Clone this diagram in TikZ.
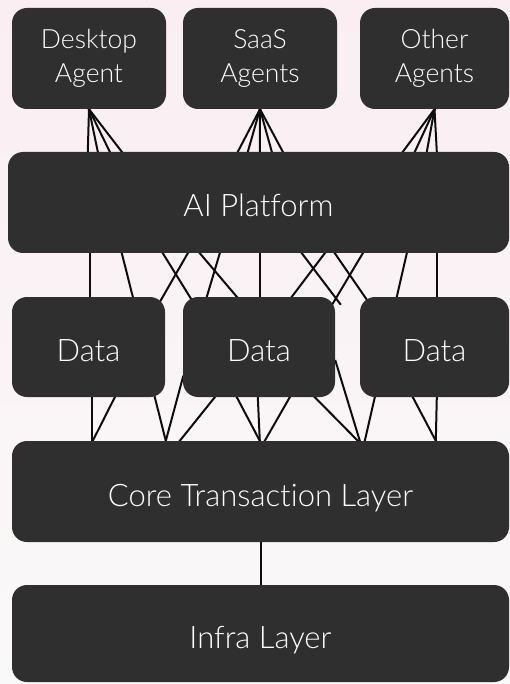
\documentclass[tikz,border=0pt]{standalone}
\usepackage{fontspec}
\setmainfont{Lato Light}[Ligatures={NoCommon,NoRequired,NoContextual}]
\usetikzlibrary{calc,backgrounds}
\definecolor{boxc}{RGB}{47,47,47}
\definecolor{bgtop}{RGB}{250,238,242}
\definecolor{bgbot}{RGB}{250,249,249}
\begin{document}
\begin{tikzpicture}[x=1pt,y=-1pt,
  box/.style={fill=boxc, rounded corners=15pt, text=white, align=center, inner sep=0pt},
  big/.style={font=\fontsize{31}{36}\selectfont, text height=29pt, text depth=0pt},
  small/.style={font=\fontsize{26.5}{34}\selectfont},
  lnk/.style={draw=black!95, line width=2pt, shorten <=-10pt, shorten >=-10pt}]
\useasboundingbox (0,0) rectangle (510,684);
% boxes
\node[box, small, minimum width=154pt, minimum height=101pt] (desk)  at (89,58.5)    {Desktop\\Agent};
\node[box, small, minimum width=154pt, minimum height=101pt] (saas)  at (260,58.5)   {SaaS\\Agents};
\node[box, small, minimum width=149pt, minimum height=101pt] (other) at (434.5,58.5) {Other\\Agents};
\node[box, big, minimum width=501pt, minimum height=101pt] (ai)    at (258.5,202.5) {AI Platform};
\node[box, big, minimum width=153pt, minimum height=100pt] (d1)    at (88.5,347)   {Data};
\node[box, big, minimum width=152pt, minimum height=100pt] (d2)    at (259,347)    {Data};
\node[box, big, minimum width=149pt, minimum height=100pt] (d3)    at (434.5,347)  {Data};
\node[box, big, minimum width=497pt, minimum height=101pt] (core)  at (260.5,491.5) {Core Transaction Layer};
\node[box, big, minimum width=497pt, minimum height=97pt]  (infra) at (260.5,633.5) {Infra Layer};
\begin{scope}[on background layer]
\fill[top color=bgtop, bottom color=bgbot] (0,0) rectangle (510,684);
% agents -> AI platform
\foreach \o in {80,90,102,114} \draw[lnk] (desk.south) -- ([xshift=\o pt]ai.north west);
\foreach \o in {230,240,252,264,275} \draw[lnk] (saas.south) -- ([xshift=\o pt]ai.north west);
\foreach \o in {395,407,419,429} \draw[lnk] (other.south) -- ([xshift=\o pt]ai.north west);
% AI platform -> data
\foreach \a/\t/\b in {82/d1/78, 114/d1/121, 155/d2/7, 180/d1/151, 192/d2/54, 212/d2/24,
  252/d2/77, 294/d2/152, 317/d2/109, 327/d3/5, 355/d2/154, 399/d3/37, 429/d3/77}
  \draw[lnk] ([xshift=\a pt]ai.south west) -- ([xshift=\b pt]\t.north west);
% data -> core
\foreach \s/\a/\b in {d1/80/80, d1/103/81, d1/143/154, d2/32/168, d2/54/248, d2/75/248,
  d2/107/253, d2/132/346, d3/15/353, d3/53/424, d3/77/424}
  \draw[lnk] ([xshift=\a pt]\s.south west) -- ([xshift=\b pt]core.north west);
\draw[lnk] ([xshift=-2pt,yshift=12pt]d2.south west) -- ([xshift=154pt]core.north west);
\draw[lnk, shorten <=0pt] ([yshift=-13pt]d2.east) -- ([xshift=348pt]core.north west);
% core -> infra
\draw[lnk] (core.south) -- (infra.north);
\end{scope}
\end{tikzpicture}
\end{document}
